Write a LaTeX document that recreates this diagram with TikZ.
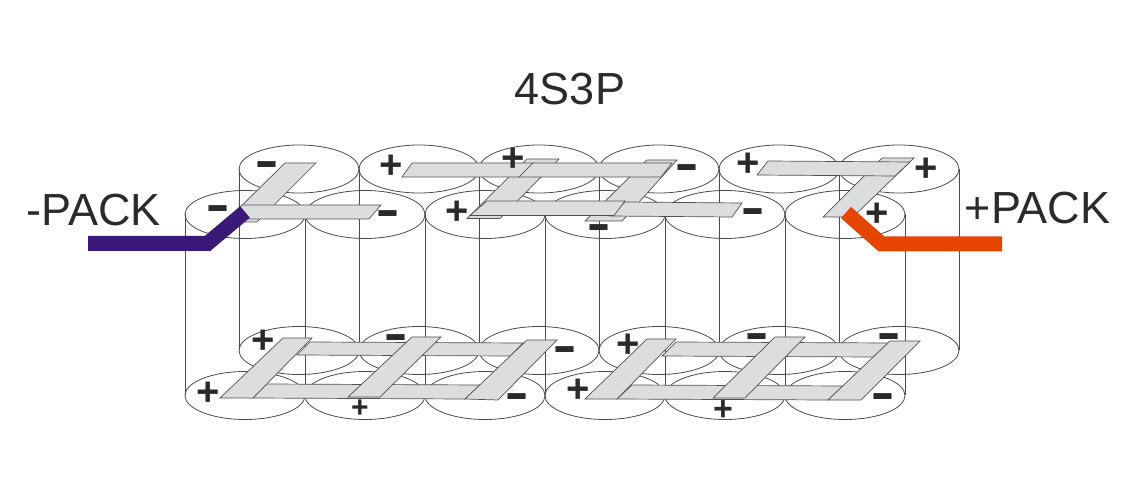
\documentclass[tikz,border=0pt]{standalone}
\usepackage{fontspec}
\setmainfont{Liberation Sans}
\tikzset{
    %Define cell outline
    cell/.style={
		draw=cellgrey,
		line width=0.8pt},
    %Define nickel strip
    strip/.style={
		draw=stripedge,
		fill=stripgrey,
		line width=0.7pt,
		line join=miter},
    %Define pack lead
    lead/.style={
		line width=15pt,
		line join=miter},
    %Define text
    packlabel/.style={
		inner sep=0pt,
		text=labelgrey,
		font=\fontsize{45}{50}\selectfont},
    plussign/.style={
		inner sep=0pt,
		anchor=base,
		yshift=-13.5pt,
		text=signgrey,
		font=\fontsize{40}{40}\selectfont\bfseries},
    minussign/.style={
		inner sep=0pt,
		anchor=base,
		yshift=-20pt,
		text=signgrey,
		font=\fontsize{36}{36}\selectfont\bfseries}
}
\definecolor{cellgrey}{HTML}{4A4A4A}
\definecolor{stripedge}{HTML}{505050}
\definecolor{stripgrey}{HTML}{DCDDDE}
\definecolor{labelgrey}{HTML}{2B2B2B}
\definecolor{signgrey}{HTML}{2A2A2A}
\definecolor{packneg}{HTML}{3A1A78}
\definecolor{packpos}{HTML}{E64500}
\begin{document}
\begin{tikzpicture}[x=1pt,y=-1pt]
			\useasboundingbox (0,0) rectangle (1135,502);
			% cells
			\foreach \x in {299,419,539,659,779,899}{
				\draw[cell] (\x,169) ellipse [x radius=60pt, y radius=24pt];
				\draw[cell] (\x,350.5) ellipse [x radius=60pt, y radius=24pt];
			}
			\foreach \x in {245,365,485,605,725,845}{
				\draw[cell] (\x,214.5) ellipse [x radius=60pt, y radius=24pt];
				\draw[cell] (\x,395.5) ellipse [x radius=60pt, y radius=24pt];
			}
			\foreach \x in {239,359,479,599,719,839,959}
				\draw[cell] (\x,169) -- (\x,350.5);
			\foreach \x in {185,305,425,545,665,785,905}
				\draw[cell] (\x,214.5) -- (\x,395.5);
			% top strips
			\draw[strip] (285,163) -- (316,163) -- (257,222) -- (225,222) -- cycle;
			\draw[strip] (242,205) -- (381,205) -- (369,219) -- (228,219) -- cycle;
			\draw[strip] (527,159) -- (559,159) -- (500,218.5) -- (467,218.5) -- cycle;
			\draw[strip] (647,160) -- (677,160) -- (622,221) -- (585,221) -- cycle;
			\draw[strip] (412,163) -- (533,163) -- (519,177) -- (402,177) -- cycle;
			\draw[strip] (533,163) -- (672,163) -- (661,177) -- (519,177) -- cycle;
			\draw[strip] (625,202) -- (742,203) -- (732,217) -- (610,216) -- cycle;
			\draw[strip] (487,201) -- (625,201) -- (614,215.5) -- (470,215.5) -- cycle;
			\draw[strip] (882,158) -- (914,158) -- (853,217) -- (823,217) -- cycle;
			\draw[strip] (768,161) -- (910,162) -- (895,176) -- (757,175) -- cycle;
			% bottom strips
			\draw[strip] (310,342) -- (523,343) -- (510,356) -- (297,355) -- cycle;
			\draw[strip] (267,384) -- (480,385) -- (465,399) -- (253,398) -- cycle;
			\draw[strip] (283,338) -- (312,338) -- (253,398) -- (220,398) -- cycle;
			\draw[strip] (412,337) -- (441,337) -- (380,397) -- (348,397) -- cycle;
			\draw[strip] (527,340) -- (557,340) -- (498,400) -- (465,399) -- cycle;
			\draw[strip] (676,342) -- (890,343) -- (873,357) -- (662,356) -- cycle;
			\draw[strip] (632,385) -- (843,386) -- (828,400) -- (617,399) -- cycle;
			\draw[strip] (647,339) -- (676,339) -- (617,399) -- (585,399) -- cycle;
			\draw[strip] (775,337) -- (805,337) -- (745,398) -- (713,398) -- cycle;
			\draw[strip] (890,341) -- (920,341) -- (861,400) -- (828,400) -- cycle;
			% pack leads
			\coordinate (negend) at (88,243.5);
			\coordinate (negbend) at (207.5,243.5);
			\coordinate (negtip) at (245,212);
			\coordinate (posend) at (1002,244);
			\coordinate (posbend) at (881.5,244);
			\coordinate (postip) at (846,212.5);
			\draw[lead,packneg] (negend) -- (negbend) -- (negtip);
			\draw[lead,packpos] (posend) -- (posbend) -- (postip);
			% terminals
			\foreach \x/\y [count=\i] in {391/165,457/211,513/158,748/163,926/168,877/213,263/340,208/392,628/344,578/389}
				\node[plussign] (plus\i) at (\x,\y) {+};
			\node[plussign,yshift=3.2pt,font=\fontsize{30}{30}\selectfont\bfseries] (plussmalla) at (360,407) {+};
			\node[plussign,yshift=2pt,font=\fontsize{34}{34}\selectfont\bfseries] (plussmallb) at (723,409) {+};
			\foreach \x/\y [count=\i] in {267/163,218/207,388/212,687/166,599/226,753/210,396/336,565/348,517/394,757/335,889/335,883/394}
				\node[minussign] (minus\i) at (\x,\y) {\scalebox{1}[1.5]{−}};
			% labels
			\node[packlabel] (title) at (570,89) {4S3P};
			\node[packlabel] (negpack) at (93.5,210) {-PACK};
			\node[packlabel] (pospack) at (1037.5,208) {+PACK};
		\end{tikzpicture}
\end{document}
